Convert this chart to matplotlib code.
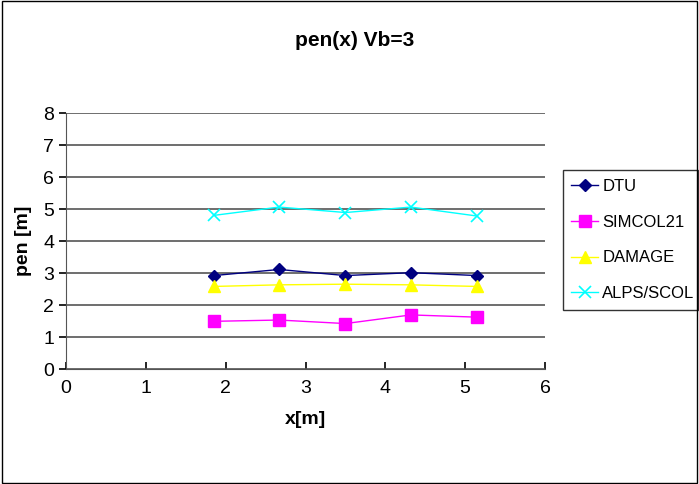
import matplotlib
matplotlib.use("Agg")
import matplotlib.pyplot as plt
from matplotlib.patches import Rectangle

plt.rcParams['font.family'] = ['Liberation Sans', 'DejaVu Sans']

x = [1.85, 2.67, 3.5, 4.32, 5.15]
dtu = [2.92, 3.11, 2.92, 3.01, 2.92]
simcol = [1.49, 1.53, 1.42, 1.69, 1.62]
damage = [2.58, 2.63, 2.65, 2.63, 2.58]
alps = [4.80, 5.06, 4.89, 5.06, 4.78]

fig = plt.figure(figsize=(6.99, 4.84), dpi=100)
ax = fig.add_axes([66/699, 1-369/484, (545-66)/699, (369-113)/484])

ax.plot(x, dtu, color='#000080', marker='D', markersize=6, lw=1, label='DTU')
ax.plot(x, simcol, color='#ff00ff', marker='s', markersize=8, lw=1, label='SIMCOL21')
ax.plot(x, damage, color='#ffff00', marker='^', markersize=9, lw=1, label='DAMAGE')
ax.plot(x, alps, color='#00ffff', marker='x', markersize=8, mew=1.2, lw=1, label='ALPS/SCOL')

ax.set_xlim(0, 6)
ax.set_ylim(0, 8)
ax.set_xticks(range(0, 7))
ax.set_yticks(range(0, 9))
ax.tick_params(labelsize=14, direction='out', length=5, width=1.2)
ax.tick_params(axis='x', direction='in', pad=8)
ax.yaxis.grid(True, color='#555555', lw=1.2)
ax.set_axisbelow(True)
for s in ['top', 'right']:
    ax.spines[s].set_visible(False)
ax.spines['left'].set_color('#555555')
ax.spines['bottom'].set_color('#555555')

ax.set_xlabel('x[m]', fontsize=14, fontweight='bold', labelpad=10)
ax.set_ylabel('pen [m]', fontsize=14, fontweight='bold', labelpad=8)
fig.text(355/699, 1-40/484, 'pen(x) Vb=3', fontsize=15, fontweight='bold',
         ha='center', va='center')

leg = ax.legend(loc='center left', bbox_to_anchor=(563/699, 1-312/484, 135/699, 144/484),
                bbox_transform=fig.transFigure, mode='expand', fontsize=12,
                frameon=True, fancybox=False, edgecolor='black', handlelength=1.6,
                labelspacing=1.25, borderpad=0.5, handletextpad=0.25, borderaxespad=0)
leg.get_frame().set_linewidth(1)

fig.patches.append(Rectangle((0.003, 0.003), 0.994, 0.994, transform=fig.transFigure,
                             fill=False, edgecolor='black', lw=1))

fig.savefig('out.png', dpi=100)
